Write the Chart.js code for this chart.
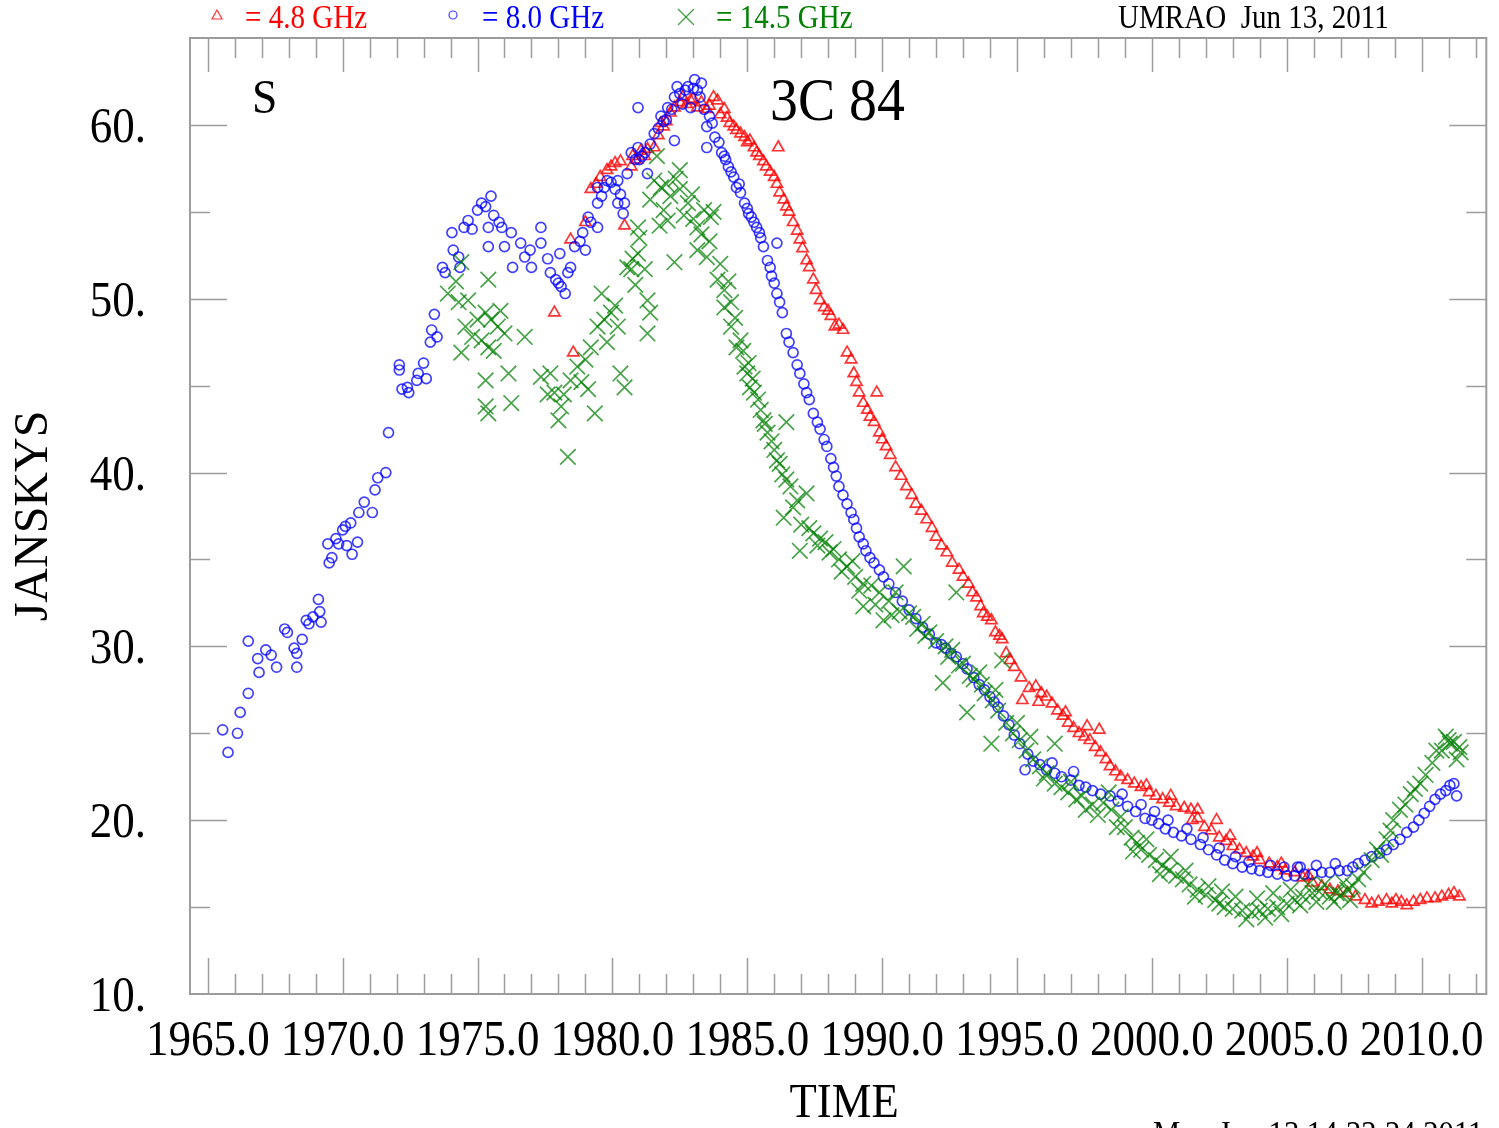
<!DOCTYPE html>
<html>
<head>
<meta charset="utf-8">
<script src="https://cdn.jsdelivr.net/npm/chart.js@4.4.2/dist/chart.umd.min.js"></script>
<style>
  html, body { margin: 0; padding: 0; background: #fff; }
  #wrap { width: 1499px; height: 1128px; position: relative; }
</style>
</head>
<body>
<div id="wrap"><canvas id="chart"></canvas></div>
<script>
// 4.8 GHz (red triangles)
const t48 = [1977.85,1978.45,1978.55,1979.0,1979.2,1979.55,1979.8,1979.95,1980.1,1980.45,
  1980.7,1980.75,1981.2,1981.3,1981.55,1981.8,1981.9,1982.15,1982.3,1982.5,
  1982.6,1982.9,1983.15,1983.5,1983.75,1983.9,1984.15,1984.35,1984.6,1984.9,
  1985.1,1985.25,1985.45,1985.7,1986.0,1986.15,1986.2,1986.45,1986.7,1986.95,
  1987.2,1987.45,1987.7,1987.85,1988.1,1988.25,1988.55,1988.7,1988.85,1988.95,
  1989.15,1989.55,1989.8,1989.9,1990.15,1990.5,1990.9,1991.25,1991.65,1992.0,
  1992.4,1992.6,1992.85,1993.0,1993.35,1993.65,1993.75,1994.05,1994.2,1994.45,
  1994.6,1994.75,1995.15,1995.2,1995.7,1996.1,1996.5,1996.9,1997.3,1997.7,
  1998.05,1998.1,1998.45,1998.85,1999.35,1999.9,2000.4,2000.9,2001.45,2001.5,
  2001.95,2002.4,2002.5,2003.0,2003.5,2004.0,2004.65,2005.3,2005.95,2006.6,
  2007.25,2007.9,2008.15,2008.7,2009.05,2009.45,2009.95,2010.5,2011.0,2011.4,
  1979.4,1980.3,1980.9,1981.05,1981.7,1982.0,1982.75,1983.0,1983.3,1983.6,
  1984.0,1984.25,1984.5,1984.75,1985.0,1985.35,1985.6,1985.85,1986.1,1986.35,
  1986.55,1986.85,1987.05,1987.3,1987.55,1988.0,1988.4,1989.05,1989.3,1989.45,
  1989.7,1990.0,1990.3,1990.7,1991.1,1991.45,1991.85,1992.2,1993.2,1993.5,
  1993.9,1994.35,1994.9,1995.45,1995.9,1996.3,1996.7,1997.1,1997.5,1997.9,
  1998.3,1998.65,1999.1,1999.6,2000.15,2000.65,2001.2,2001.7,2002.2,2002.75,
  2003.25,2003.75,2004.35,2004.95,2005.6,2006.3,2006.9,2007.55,2008.4,2008.9,
  2009.25,2009.7,2010.2,2010.75,2011.2,
  1995.8,1996.8,1997.6,1999.8,2000.7,2001.7,2002.9,2003.9,2004.8,2005.8];
const s48 = [49.2,53.4,46.9,54.4,56.3,57.0,57.4,57.6,57.8,54.2,
  57.6,58.2,58.2,58.6,58.7,60.1,59.9,60.7,61.0,61.3,
  61.6,61.4,61.0,60.9,61.6,61.4,60.9,60.1,59.7,59.3,
  59.1,58.7,58.2,57.6,57.0,58.7,56.1,55.3,54.4,53.4,
  52.2,51.1,49.9,49.5,49.0,48.4,48.2,46.9,46.5,45.7,
  44.6,43.2,44.6,42.3,41.5,40.3,39.2,38.2,37.3,36.3,
  35.4,34.8,34.4,34.0,33.1,32.3,31.9,31.5,30.8,30.4,
  29.6,29.2,28.2,26.9,27.7,27.1,26.3,25.6,25.0,24.6,
  25.2,23.9,23.1,22.5,22.1,21.6,21.2,20.8,20.6,20.0,
  19.6,20.0,19.0,18.5,18.1,17.7,17.3,17.0,16.4,16.0,
  15.8,15.4,15.2,15.4,15.4,15.1,15.4,15.5,15.7,15.6,
  56.6,57.9,58.0,58.5,59.4,60.2,61.2,61.5,61.3,61.1,
  60.6,60.4,59.9,59.5,59.0,58.4,57.9,57.3,56.6,55.7,
  55.0,53.9,52.9,51.8,50.5,49.3,48.5,45.2,44.0,43.6,
  42.9,41.9,41.0,39.8,38.7,37.8,36.8,35.8,33.6,32.8,
  31.7,30.6,28.8,27.6,27.3,26.7,26.0,25.3,24.8,24.2,
  23.5,22.8,22.3,21.9,21.4,21.0,20.7,20.1,19.4,18.8,
  18.3,17.9,17.5,17.1,16.7,16.2,15.9,15.6,15.3,15.2,
  15.3,15.3,15.5,15.6,15.8,
  26.8,26.2,25.4,22.0,21.4,20.6,19.1,18.1,17.5,16.8];

// 8.0 GHz (blue circles)
const t80 = [1965.55,1965.75,1966.1,1966.2,1966.5,1966.5,1966.85,1966.9,1967.15,1967.35,
  1967.55,1967.85,1967.95,1968.2,1968.3,1968.3,1968.5,1968.65,1968.75,1968.9,
  1969.1,1969.15,1969.2,1969.45,1969.5,1969.6,1969.75,1969.85,1970.0,1970.1,
  1970.15,1970.3,1970.35,1970.55,1970.6,1970.8,1971.1,1971.2,1971.3,1971.6,
  1971.7,1972.1,1972.1,1972.2,1972.4,1972.45,1972.75,1972.8,1973.0,1973.1,
  1973.25,1973.3,1973.4,1973.5,1973.7,1973.8,1974.05,1974.1,1974.3,1974.35,
  1974.5,1974.65,1974.8,1975.0,1975.15,1975.3,1975.4,1975.4,1975.5,1975.6,
  1975.8,1975.9,1976.0,1976.25,1976.3,1976.6,1976.75,1976.95,1977.0,1977.35,
  1977.35,1977.6,1977.7,1977.9,1978.0,1978.05,1978.1,1978.25,1978.35,1978.45,
  1978.6,1978.8,1978.9,1979.0,1979.1,1979.2,1979.45,1979.45,1979.45,1979.7,
  1979.8,1979.95,1980.1,1980.2,1980.2,1980.4,1980.45,1980.55,1980.7,1980.95,
  1980.95,1981.0,1981.2,1981.3,1981.4,1981.55,1981.7,1981.8,1982.0,1982.05,
  1982.3,1982.3,1982.4,1982.5,1982.6,1982.8,1982.9,1983.05,1983.15,1983.25,
  1983.3,1983.4,1983.5,1983.5,1983.7,1983.8,1983.95,1984.05,1984.2,1984.3,
  1984.5,1984.6,1984.75,1984.9,1985.05,1985.25,1985.45,1985.6,1985.75,1985.9,
  1986.1,1986.1,1986.3,1986.45,1986.7,1986.95,1987.2,1987.45,1987.7,1987.95,
  1988.2,1988.4,1988.7,1988.95,1989.15,1989.4,1989.7,1990.05,1990.5,1991.0,
  1991.5,1992.0,1992.35,1992.75,1993.15,1993.6,1994.0,1994.3,1994.7,1995.1,
  1995.3,1995.6,1996.1,1996.65,1997.3,1997.8,1998.45,1999.1,1999.75,2000.25,
  2000.8,2001.45,2002.1,2002.7,2003.35,2004.0,2004.65,2005.3,2005.4,2005.95,
  2006.6,2007.25,2007.65,2008.15,2008.7,2009.2,2009.7,2010.1,2010.5,2010.9,
  2011.2,2011.3,
  1979.6,1980.3,1980.85,1981.1,1981.9,1982.2,1982.7,1983.0,1983.6,1984.15,
  1984.4,1984.7,1985.0,1985.15,1985.35,1985.5,1985.85,1986.0,1986.2,1986.55,
  1986.85,1987.1,1987.3,1987.6,1987.85,1988.1,1988.3,1988.55,1988.85,1989.05,
  1989.3,1989.55,1989.9,1990.25,1990.75,1991.25,1991.75,1992.2,1992.55,1993.0,
  1993.4,1993.8,1994.15,1994.5,1994.9,1995.4,1995.85,1996.4,1997.0,1997.55,
  1998.1,1998.75,1999.4,2000.0,2000.5,2001.1,2001.8,2002.4,2003.0,2003.7,
  2004.3,2005.0,2005.65,2006.3,2006.95,2007.45,2007.9,2008.45,2008.95,2009.45,
  2009.9,2010.3,2010.7,2011.05,
  1996.3,1997.1,1998.9,1999.6,2000.1,2000.6,2001.3,2001.9,2002.5,2003.1,
  2003.6,2004.4,2004.9,2005.5,2006.1,2006.8];
const s80 = [25.2,23.9,25.0,26.2,27.3,30.3,29.3,28.5,29.8,29.5,
  28.8,31.0,30.8,29.9,29.6,28.8,30.4,31.5,31.3,31.7,
  32.7,32.0,31.4,35.9,34.8,35.1,36.2,35.9,36.7,36.9,
  35.8,37.1,35.3,36.0,37.7,38.3,37.7,39.0,39.7,40.0,
  42.3,45.9,46.2,44.8,44.9,44.6,45.3,45.7,46.3,45.4,
  47.5,48.2,49.1,47.8,51.8,51.5,53.8,52.8,52.4,51.8,
  54.1,54.5,54.0,55.1,55.5,55.3,54.1,53.0,55.9,54.8,
  54.4,54.1,53.0,53.8,51.8,53.2,52.4,52.8,51.8,54.1,
  53.2,52.3,51.5,51.1,50.9,52.6,50.7,50.3,51.5,51.8,
  53.0,53.3,53.8,52.8,54.7,54.4,54.1,55.5,56.4,56.4,
  56.8,56.7,56.3,56.8,55.5,54.9,55.5,57.2,58.4,58.7,
  61.0,58.0,58.4,57.2,58.9,59.5,59.8,60.5,60.3,61.0,
  61.6,59.1,62.2,61.8,61.2,62.2,61.0,62.6,62.0,61.6,
  62.4,60.9,59.9,58.7,60.1,59.3,59.0,58.4,58.0,57.6,
  57.0,56.4,56.1,55.5,54.9,54.4,53.8,53.0,52.2,51.3,
  53.2,50.3,49.2,48.0,46.9,45.7,44.6,43.4,42.5,41.5,
  40.3,39.2,38.2,37.3,36.3,35.5,34.8,34.0,33.1,32.1,
  31.1,30.2,29.9,29.4,28.7,27.8,27.1,26.5,25.5,24.4,
  22.9,23.4,22.9,22.5,22.0,21.7,21.4,20.8,20.1,19.8,
  19.3,18.9,18.3,17.7,17.3,17.1,16.9,16.8,17.3,16.9,
  17.0,17.1,17.5,17.9,18.3,18.9,19.6,20.4,21.2,21.7,
  22.1,21.4,
  55.9,56.0,58.0,58.2,60.2,60.9,62.0,62.1,60.5,58.2,
  57.3,56.6,55.2,54.7,54.1,53.5,51.8,50.9,49.8,47.5,
  46.2,45.1,44.2,42.9,41.9,40.8,39.8,38.7,37.7,36.8,
  35.9,35.1,34.4,33.6,32.6,31.6,30.7,30.1,29.6,29.0,
  28.2,27.5,26.8,26.0,24.9,23.8,23.2,22.7,22.3,21.9,
  21.5,21.1,20.5,20.0,19.5,19.1,18.6,18.0,17.5,17.2,
  17.0,16.8,16.9,17.0,17.1,17.3,17.7,18.1,18.6,19.3,
  20.0,20.8,21.5,22.0,
  23.3,22.8,21.5,20.9,20.5,20.0,19.5,19.0,18.4,17.9,
  17.6,17.4,17.3,17.3,17.4,17.5];

// 14.5 GHz (green crosses)
const t145 = [1973.9,1974.3,1974.4,1974.4,1974.55,1974.65,1974.8,1975.0,1975.3,1975.3,
  1975.3,1975.4,1975.4,1975.4,1975.5,1975.75,1976.0,1976.15,1976.25,1976.75,
  1977.35,1977.7,1977.85,1978.0,1978.1,1978.35,1978.45,1978.7,1979.0,1979.2,
  1979.35,1979.45,1979.6,1979.7,1979.95,1980.2,1980.3,1980.45,1980.55,1980.7,
  1980.95,1980.95,1981.2,1981.3,1981.3,1981.4,1981.4,1981.65,1981.8,1981.9,
  1982.15,1982.3,1982.5,1982.5,1982.8,1983.15,1983.15,1983.4,1983.5,1983.65,
  1983.9,1984.15,1984.15,1984.4,1984.4,1984.6,1984.75,1984.9,1985.0,1985.1,
  1985.25,1985.5,1985.6,1985.75,1986.0,1986.1,1986.2,1986.35,1986.45,1986.45,
  1986.6,1986.85,1986.95,1987.2,1987.45,1987.7,1988.05,1988.4,1988.7,1989.0,
  1989.3,1989.3,1989.9,1990.05,1990.5,1990.8,1991.15,1991.5,1991.75,1992.25,
  1992.35,1992.6,1992.75,1993.0,1993.15,1993.4,1993.6,1993.8,1994.05,1994.2,
  1994.3,1994.45,1994.85,1995.35,1995.85,1996.4,1996.4,1996.9,1997.55,1998.2,
  1998.85,1999.25,1999.6,2000.15,2000.65,2001.15,2001.7,2002.35,2002.7,2003.35,
  2004.0,2004.65,2005.3,2005.95,2006.6,2006.85,2007.25,2007.65,2008.15,2008.35,
  2008.7,2008.95,2009.2,2009.6,2009.95,2010.4,2010.55,2010.75,2011.0,2011.05,
  2011.4,2011.45,
  1974.2,1975.15,1975.6,1975.85,1977.6,1978.2,1978.85,1979.1,1979.8,1980.1,
  1980.75,1980.85,1981.0,1981.55,1981.75,1982.0,1982.05,1982.35,1982.65,1982.95,
  1983.0,1983.3,1983.6,1983.75,1984.0,1984.3,1984.55,1984.85,1985.05,1985.2,
  1985.4,1985.65,1985.9,1986.3,1986.7,1987.0,1987.3,1987.6,1987.9,1988.2,
  1988.5,1988.9,1989.15,1989.6,1989.75,1990.25,1990.35,1990.65,1991.0,1991.3,
  1991.6,1992.0,1992.45,1992.85,1993.25,1993.7,1994.1,1994.6,1995.1,1995.6,
  1996.1,1996.65,1997.2,1997.8,1998.5,1999.0,1999.45,1999.9,2000.4,2000.9,
  2001.4,2002.0,2002.5,2003.0,2003.7,2004.3,2005.0,2005.6,2006.2,2007.0,
  2007.45,2007.85,2008.5,2008.85,2009.4,2009.75,2010.15,2010.9,2011.2,2011.3,
  1995.0,1995.5,1996.0,1997.0,1997.4,1998.0,1998.4,1998.7,1999.3,1999.8,
  2000.3,2000.7,2001.25,2001.6,2002.1,2002.6,2003.1,2003.5,2003.9,2004.2,
  2004.5,2004.8,2005.15,2005.5,2005.8,2006.1,2006.4,2006.75,2007.1,2007.35];
const s145 = [50.3,49.8,52.1,46.9,48.4,49.9,47.8,48.8,49.2,45.3,
  43.8,51.1,47.2,43.4,48.8,48.4,48.0,45.7,44.0,47.8,
  45.5,45.7,44.6,43.0,43.8,40.9,45.3,46.1,46.5,47.2,
  43.4,48.4,50.3,48.8,49.2,48.4,45.7,44.9,51.8,51.7,
  52.6,54.1,51.7,49.9,48.0,49.2,55.7,58.2,56.4,55.1,
  55.9,52.1,56.3,57.4,55.5,54.1,52.8,55.1,52.4,54.7,
  51.1,50.5,49.5,49.8,48.4,47.2,47.6,46.1,45.7,44.9,
  44.6,43.6,43.0,42.3,41.3,40.7,40.5,37.4,39.6,42.9,
  39.2,38.4,35.5,38.8,36.5,36.2,35.4,35.0,34.6,34.0,
  33.6,32.3,33.1,31.5,33.1,34.6,31.7,31.3,30.8,27.9,
  30.0,29.8,33.1,29.0,26.2,28.1,28.5,27.3,24.4,27.5,
  26.3,29.2,25.0,24.0,23.1,24.4,22.1,21.6,20.6,21.0,
  20.2,19.0,18.3,17.7,17.1,16.6,16.0,15.4,15.0,14.8,
  14.8,15.0,15.4,15.8,15.6,15.8,16.0,16.6,17.7,18.3,
  18.9,20.0,20.6,21.5,22.1,23.3,24.0,24.0,24.6,24.4,
  24.2,23.9,
  51.0,47.6,47.0,49.3,44.5,44.5,45.2,44.8,47.5,49.6,
  52.3,50.8,53.5,56.8,54.2,56.6,54.5,56.9,54.8,56.0,
  54.6,53.7,53.3,55.0,52.0,51.0,48.9,47.0,46.3,45.4,
  44.2,42.8,41.8,39.9,38.0,37.0,36.8,35.8,36.0,35.6,
  34.3,34.9,33.2,33.5,32.4,32.6,31.8,32.0,31.9,31.0,
  30.6,30.3,29.4,28.9,28.3,27.8,26.9,25.6,24.6,23.5,
  22.7,21.9,21.2,20.9,20.6,19.6,18.7,18.0,17.4,16.8,
  16.3,15.7,15.2,14.9,14.7,14.9,15.2,15.6,15.9,15.7,
  16.2,17.0,18.0,19.4,20.9,21.8,22.6,24.8,24.5,23.5,
  25.6,24.8,22.4,22.2,21.4,20.3,21.6,19.6,18.2,18.9,
  16.9,17.9,17.1,15.6,16.2,15.9,15.6,14.3,15.5,14.4,
  15.8,14.6,16.0,15.1,16.3,15.3,16.3,15.3,16.4,15.4];

const xTickLabels = [1965, 1970, 1975, 1980, 1985, 1990, 1995, 2000, 2005, 2010];
const yTickLabels = [10, 20, 30, 40, 50, 60];

const SERIF = '"Liberation Serif", "DejaVu Serif", serif';
const RED = 'rgba(255, 0, 0, 0.8)';
const BLUE = 'rgba(0, 0, 255, 0.75)';
const GREEN = 'rgba(0, 128, 0, 0.72)';
const AXIS_GREY = '#9c9c9c';

const toPoints = (t, s) => t.map((x, i) => ({ x: x, y: s[i] }));

// condensed serif text, like the original plot
function text(ctx, str, x, y, size, color, align, sx) {
  ctx.save();
  ctx.translate(x, y);
  ctx.scale(sx || 0.9, 1);
  ctx.font = `${size}px ${SERIF}`;
  ctx.fillStyle = color || '#000';
  ctx.textAlign = align || 'left';
  ctx.textBaseline = 'alphabetic';
  ctx.fillText(str, 0, 0);
  ctx.restore();
}

function line(ctx, x1, y1, x2, y2) {
  ctx.beginPath();
  ctx.moveTo(x1, y1);
  ctx.lineTo(x2, y2);
  ctx.stroke();
}

const framePlugin = {
  id: 'frame',
  beforeDatasetsDraw(chart) {
    const { ctx, chartArea: { left, right, top, bottom }, scales: { x, y } } = chart;
    ctx.save();
    ctx.strokeStyle = AXIS_GREY;
    ctx.lineWidth = 2;
    ctx.strokeRect(left, top, right - left, bottom - top);
    ctx.lineWidth = 1.5;
    // year ticks, long every 5 years
    for (let yr = Math.ceil(x.min); yr <= x.max; yr++) {
      const px = Math.round(x.getPixelForValue(yr)) + 0.5;
      const major = xTickLabels.includes(yr);
      line(ctx, px, bottom, px, bottom - (major ? 36 : 20));
      line(ctx, px, top, px, top + (major ? 34 : 20));
    }
    for (let v = y.min + 5; v < y.max; v += 5) {
      const py = Math.round(y.getPixelForValue(v)) + 0.5;
      const major = yTickLabels.includes(v);
      const len = major ? 37 : 20;
      line(ctx, left, py, left + len, py);
      line(ctx, right, py, right - len, py);
    }
    ctx.restore();
  },
  afterDraw(chart) {
    const { ctx, chartArea: { left, right, top, bottom }, scales: { x, y } } = chart;
    ctx.save();
    xTickLabels.forEach(v => {
      text(ctx, v.toFixed(1), x.getPixelForValue(v), bottom + 61, 50, '#000', 'center', 0.9);
    });
    yTickLabels.forEach(v => {
      text(ctx, v + '.', left - 44, y.getPixelForValue(v) + 17, 50, '#000', 'right', 0.9);
    });

    // axis titles
    ctx.save();
    ctx.translate(47, (top + bottom) / 2);
    ctx.rotate(-Math.PI / 2);
    ctx.font = `48px ${SERIF}`;
    ctx.fillStyle = '#000';
    ctx.textAlign = 'center';
    ctx.fillText('JANSKYS', 0, 0);
    ctx.restore();
    text(ctx, 'TIME', (left + right) / 2 + 6, 1117, 48, '#000', 'center', 0.93);

    // labels inside the frame
    text(ctx, 'S', 252, 113, 48, '#000', 'left', 0.95);
    text(ctx, '3C 84', 770, 120, 62, '#000', 'left', 0.9);

    // legend row above the frame
    ctx.lineWidth = 1.2;
    ctx.strokeStyle = RED;
    ctx.beginPath();
    ctx.moveTo(217, 10); ctx.lineTo(222, 19); ctx.lineTo(212, 19); ctx.closePath();
    ctx.stroke();
    text(ctx, '= 4.8 GHz', 245, 28, 33, '#ff0000', 'left', 0.88);

    ctx.strokeStyle = BLUE;
    ctx.beginPath();
    ctx.arc(453, 15, 4, 0, Math.PI * 2);
    ctx.stroke();
    text(ctx, '= 8.0 GHz', 482, 28, 33, '#0000ff', 'left', 0.88);

    ctx.strokeStyle = GREEN;
    line(ctx, 678, 9, 694, 25);
    line(ctx, 694, 9, 678, 25);
    text(ctx, '= 14.5 GHz', 716, 28, 33, '#008000', 'left', 0.88);

    text(ctx, 'UMRAO  Jun 13, 2011', 1118, 28, 33, '#000', 'left', 0.88);
    text(ctx, 'Mon Jun 13 14:22:24 2011', 1153, 1144, 34, '#000', 'left', 0.9);
    ctx.restore();
  }
};

const scatterSet = (label, t, s, style, radius, color, order) => ({
  label: label,
  data: toPoints(t, s),
  showLine: false,
  pointStyle: style,
  pointRadius: radius,
  pointHoverRadius: radius,
  pointBorderWidth: 1.7,
  pointBorderColor: color,
  pointBackgroundColor: 'rgba(0,0,0,0)',
  order: order
});

new Chart(document.getElementById('chart'), {
  type: 'scatter',
  data: {
    datasets: [
      scatterSet('4.8 GHz', t48, s48, 'triangle', 6.5, RED, 2),
      scatterSet('8.0 GHz', t80, s80, 'circle', 5, BLUE, 1),
      scatterSet('14.5 GHz', t145, s145, 'crossRot', 11, GREEN, 0)
    ]
  },
  options: {
    responsive: true,
    maintainAspectRatio: false,
    animation: false,
    devicePixelRatio: 1,
    layout: {
      padding: { top: 38, right: 7, left: 0, bottom: 0 }
    },
    plugins: {
      legend: { display: false },
      tooltip: { enabled: false }
    },
    scales: {
      x: {
        type: 'linear',
        min: 1964.34,
        max: 2012.4,
        grid: { display: false },
        border: { display: false },
        ticks: { display: false },
        afterFit: scale => { scale.height = 134; }
      },
      y: {
        type: 'linear',
        min: 10,
        max: 65,
        grid: { display: false },
        border: { display: false },
        ticks: { display: false },
        afterFit: scale => { scale.width = 190; }
      }
    }
  },
  plugins: [framePlugin]
});
</script>
</body>
</html>
